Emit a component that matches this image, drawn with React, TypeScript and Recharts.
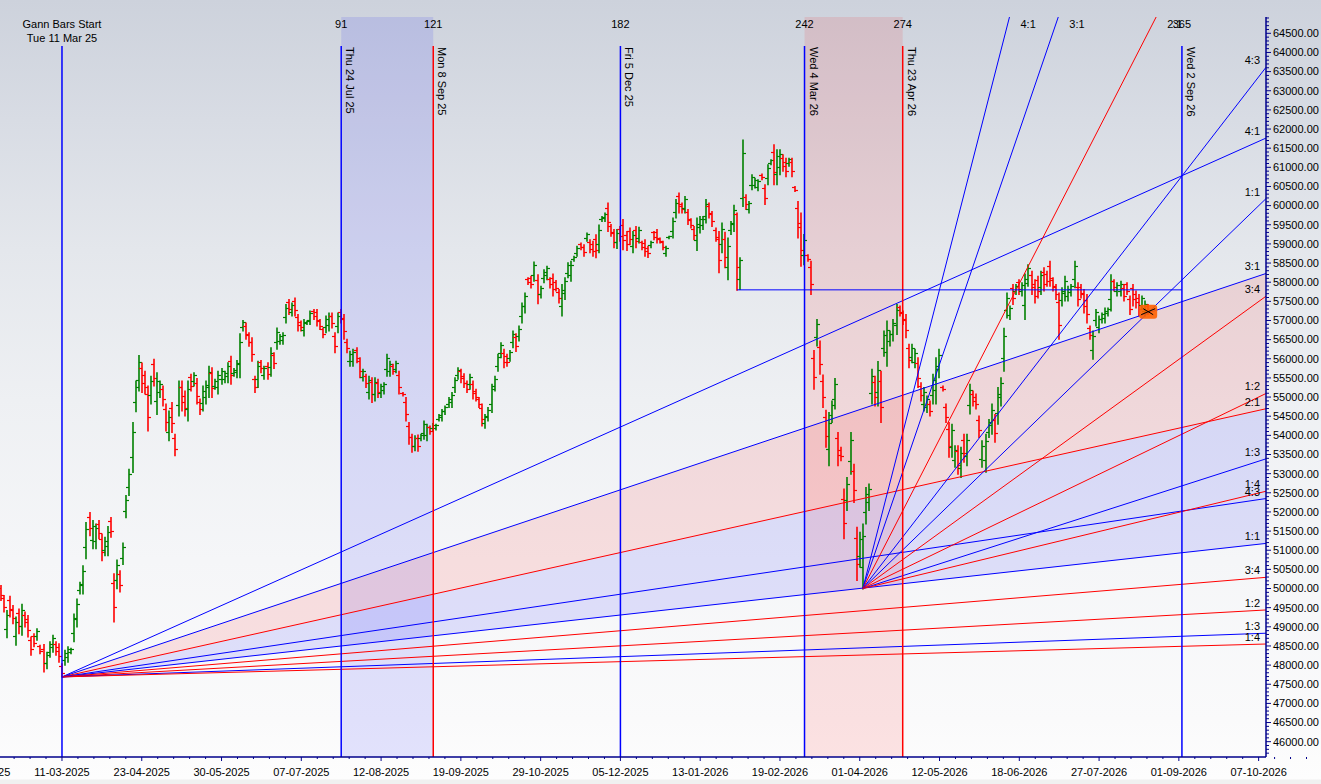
import React from 'react';
import { ComposedChart, Bar, Area, Scatter, XAxis, YAxis, ReferenceLine, ReferenceArea } from 'recharts';

// ---------------- data ----------------
const FIRST_BAR = -20;
// [open, high, low, close] per trading bar, starting at bar -20
const OHLC: number[][] = [
  // -20
  [50010,50090,49700,49820],[49740,49830,49400,49530],[48940,49440,48730,49300],[49700,49810,49270,49430],[49470,49570,49090,49230],[48750,49270,48530,49120],[49350,49480,48830,49030],[49030,49600,48790,49440],[49320,49400,49010,49130],[49200,49310,48750,48920],
  // -10
  [48650,48750,48270,48410],[48760,48830,48490,48590],[48750,48960,48660,48900],[48490,48530,48310,48380],[48410,48550,47830,48050],[48050,48350,47920,48260],[48340,48620,48220,48540],[48480,48790,48350,48700],[48550,48620,48270,48380],[48470,48570,48090,48230],
  // 0
  [47980,48050,47700,47800],[48130,48400,48010,48320],[48210,48490,48090,48410],[48350,48450,48310,48420],[48840,49350,48620,49200],[49230,49740,49010,49600],[49960,50180,49870,50120],[50090,50610,49870,50460],[51080,51740,50790,51550],[51880,52000,51390,51570],
  // 10
  [51270,51790,51050,51640],[51250,51700,51050,51570],[51690,51790,51310,51450],[51300,51440,50740,50950],[51010,51350,50870,51250],[51100,51630,50870,51480],[51770,51870,51350,51510],[50150,50400,49140,49520],[50230,50760,50010,50610],[50370,50480,49920,50090],
  // 20
  [50810,51200,50640,51090],[52030,52440,51860,52320],[52650,53130,52440,52990],[53430,54350,53040,54090],[54870,55430,54630,55270],[55450,56100,55170,55910],[55750,55900,55130,55360],[55570,55690,55090,55270],[55070,55300,54130,54480],[55050,55560,54830,55410],
  // 30
  [55860,56000,55300,55510],[54890,55650,54560,55430],[55130,55430,55000,55340],[55200,55300,54780,54940],[54690,54830,54130,54340],[54100,54650,53870,54490],[54710,54870,54090,54320],[53930,54040,53480,53650],[54790,55430,54520,55250],[55270,55430,54650,54880],
  // 40
  [55040,55170,54520,54720],[54700,55430,54390,55220],[55520,55610,55170,55300],[55410,55650,55300,55580],[55370,55500,54830,55030],[54880,54960,54560,54680],[54850,55300,54650,55170],[55010,55430,54830,55310],[55250,55820,55000,55660],[55620,55780,55000,55230],
  // 50
  [55300,55480,55220,55430],[55270,55690,55090,55570],[55470,55760,55350,55680],[55480,55690,55390,55630],[55550,55910,55390,55810],[55930,56080,55350,55570],[55620,55760,55560,55720],[55660,55970,55520,55880],[55870,56670,55520,56440],[56820,57010,56740,56960],
  // 60
  [56860,56950,56520,56650],[56620,56690,56340,56450],[56440,56560,55950,56130],[55470,55560,55130,55260],[55470,55950,55260,55810],[55910,55970,55650,55750],[55580,55820,55480,55750],[55820,55910,55480,55610],[55780,56300,55560,56150],[56090,56170,55760,55880],
  // 70
  [56430,56820,56260,56710],[56470,56650,56390,56600],[56480,56690,56390,56630],[57090,57430,56950,57330],[57480,57560,57170,57290],[57230,57470,57130,57400],[57510,57600,57130,57270],[57080,57170,56740,56870],[56950,57000,56740,56820],[56740,57040,56610,56950],
  // 80
  [56940,57000,56910,56980],[57010,57260,56910,57190],[57250,57300,57040,57120],[57210,57300,56870,57000],[56990,57040,56780,56860],[56770,56820,56560,56640],[56820,57130,56690,57040],[56880,57210,56740,57120],[57130,57210,56820,56940],[56590,56690,56170,56330],
  // 90
  [56850,57210,56690,57110],[57230,57300,56950,57060],[57040,57170,56520,56720],[56450,56520,56170,56280],[55940,56210,55820,56130],[55950,56260,55820,56170],[56220,56300,55910,56030],[55940,56040,55520,55680],[55520,55740,55430,55680],[55540,55610,55260,55370],
  // 100
  [55140,55560,54960,55440],[55390,55520,54870,55070],[55090,55520,54910,55400],[55380,55480,55000,55140],[55110,55350,55000,55280],[55180,55390,55090,55330],[55730,56130,55560,56020],[55680,55950,55560,55870],[55820,55870,55610,55690],[55740,55950,55650,55890],
  // 110
  [55570,55690,55090,55270],[55110,55130,55040,55070],[54880,55000,54390,54570],[54240,54350,53780,53950],[53950,54040,53570,53710],[53730,54000,53610,53920],[53940,54020,53600,53730],[53920,54040,53870,54010],[54050,54390,53910,54290],[54000,54300,53870,54210],
  // 120
  [54220,54260,54040,54110],[54190,54320,54130,54280],[54200,54300,54150,54270],[54440,54560,54390,54530],[54480,54690,54390,54630],[54630,54780,54560,54740],[54820,55000,54740,54950],[54860,55130,54740,55050],[55250,55520,55130,55440],[55570,55780,55480,55720],
  // 130
  [55670,55740,55390,55500],[55550,55620,55260,55370],[55370,55430,55130,55220],[55340,55610,55220,55530],[55340,55430,54960,55100],[55160,55220,54910,55000],[54950,55000,54740,54820],[54720,54830,54260,54430],[54310,54560,54200,54490],[54500,54740,54390,54670],
  // 140
  [54830,55350,54610,55200],[55290,55560,55170,55480],[55820,56130,55690,56040],[56160,56430,56040,56350],[56160,56260,55780,55920],[56070,56130,55820,55910],[56030,56230,55950,56170],[56430,56740,56300,56650],[56570,56670,56200,56340],[56600,56870,56480,56790],
  // 150
  [57110,57470,56950,57370],[57370,57730,57210,57630],[58090,58130,57950,58000],[58110,58170,57860,57950],[58190,58540,58040,58440],[58060,58210,57450,57680],[57690,57910,57600,57850],[58100,58340,58000,58270],[58190,58430,58080,58360],[58080,58130,57860,57940],
  // 160
  [58110,58230,57650,57820],[58000,58060,57780,57860],[57750,57820,57470,57580],[57380,57950,57130,57790],[57730,58130,57560,58020],[58250,58520,58130,58440],[58200,58560,58040,58460],[58600,58690,58560,58660],[58770,58950,58690,58900],[59000,59040,58860,58910],
  // 170
  [58930,58990,58690,58780],[59150,59300,59080,59260],[59050,59120,58780,58880],[59000,59080,58690,58810],[59130,59250,58650,58830],[59000,59510,58780,59360],[59640,59730,59600,59700],[59670,59820,59600,59780],[59930,60080,59340,59560],[59460,59520,59210,59300],
  // 180
  [59290,59390,58910,59050],[59040,59390,58890,59290],[59390,59470,59080,59200],[59490,59650,58860,59100],[59240,59340,58840,58990],[59340,59430,58990,59120],[58950,59340,58780,59230],[59360,59470,58910,59080],[59160,59450,59040,59370],[59040,59080,58860,58930],
  // 190
  [59030,59120,58690,58820],[58890,58950,58660,58750],[58960,59080,58910,59050],[59300,59340,59120,59190],[59320,59390,59040,59150],[59140,59170,59040,59080],[59040,59080,58860,58930],[58770,58950,58690,58900],[59170,59210,59150,59200],[59330,59690,59170,59590],
  // 200
  [59830,60170,59690,60070],[60240,60340,59820,59980],[60030,60080,59820,59900],[59950,60250,59820,60160],[59830,59910,59520,59640],[59620,59670,59430,59500],[59400,59470,59120,59230],[59100,59690,58840,59520],[59430,59730,59300,59640],[59490,59730,59390,59660],
  // 210
  [59740,60170,59560,60050],[60000,60080,59690,59810],[59780,59860,59470,59590],[59360,59430,59080,59190],[59120,59340,58260,58580],[59010,59560,58780,59400],[59130,59320,58390,58670],[58410,59170,58080,58950],[59360,59600,59260,59530],[59540,60020,59340,59880],
  // 220
  [59770,59820,57800,58390],[58090,58650,57820,58580],[60200,61730,59990,61380],[60220,60300,59910,60030],[59910,60120,59820,60060],[60550,60820,60430,60740],[60550,60730,60470,60680],[60490,60690,60400,60630],[60810,60840,60690,60740],[60460,60560,60040,60200],
  // 230
  [60720,61080,60560,60980],[61120,61210,61080,61180],[61390,61600,60560,60870],[60830,61470,60560,61290],[61020,61470,60820,61340],[61250,61340,60910,61040],[61150,61250,60770,60910],[61100,61250,61040,61210],[61150,61250,60770,60910],[60480,60510,60380,60420],
  // 240
  [59930,60120,59170,59450],[59540,59820,58430,58850],[58710,59260,58470,59100],[58700,58730,58560,58610],[58390,58560,57690,57950],[56030,56230,55220,55520],[56560,57040,56350,56900],[56310,56480,55610,55870],[55420,55590,54740,54990],[54480,54670,53700,53990],
  // 250
  [53640,54610,53220,54330],[54520,54910,54350,54800],[54940,55500,54700,55340],[53920,54090,53220,53480],[53630,53700,53350,53460],[52350,52610,51310,51700],[52310,52910,52050,52740],[53330,54090,53000,53870],[53060,53260,52260,52560],[51330,51610,50220,50640],
  // 260
  [50840,51480,50570,51300],[50550,51700,50000,51370],[51990,52650,51700,52460],[52260,52740,52050,52600],[55100,55740,54830,55560],[55400,55560,54780,55010],[55130,55940,54780,55710],[55420,55690,54350,54750],[56280,56740,56080,56610],[56170,57000,55820,56760],
  // 270
  [56470,56740,56350,56660],[56650,57040,56480,56930],[56880,57430,56650,57270],[57340,57390,57130,57210],[57190,57260,56910,57020],[57050,57170,56560,56740],[56270,56390,55780,55960],[56050,56390,55910,56290],[55920,56260,55780,56160],[55880,56040,55260,55490],
  // 280
  [55290,55390,54910,55050],[54830,55260,54650,55140],[54740,55040,54610,54950],[54830,54910,54520,54640],[55060,55610,54830,55450],[55190,56040,54830,55800],[55740,56260,55520,56110],[55270,55300,55170,55210],[54730,54830,54350,54490],[54170,54350,53440,53710],
  // 290
  [53700,54300,53440,54130],[53350,53740,53180,53630],[53590,53740,53000,53220],[53150,53700,52910,53540],[53890,54040,53310,53530],[53470,54040,53220,53880],[54800,55350,54570,55190],[55090,55170,54780,54900],[55010,55090,54700,54820],[54410,54520,53960,54130],
  // 300
  [53390,53870,53180,53730],[53350,54040,53050,53840],[54100,54430,53960,54340],[54280,54830,54040,54670],[54410,54560,53830,54050],[54590,55260,54300,55070],[55000,55520,54780,55370],[56030,56810,55690,56590],[57280,57730,57080,57600],[57150,57390,57040,57320],
  // 310
  [57850,57950,57430,57590],[57770,57950,57690,57900],[58000,58080,57690,57810],[57760,58000,57650,57930],[57400,58230,57040,57990],[58080,58470,57910,58360],[58180,58300,57690,57870],[57960,58080,57470,57650],[58060,58170,57600,57770],[57870,58300,57690,58180],
  // 320
  [58270,58390,57780,57960],[58220,58300,57910,58030],[58430,58560,57910,58110],[58060,58130,57780,57890],[57870,57950,57560,57680],[57490,57730,56520,56880],[57530,57870,57390,57770],[57720,58170,57520,58040],[57640,57910,57520,57830],[57740,57950,57650,57890],
  // 330
  [58080,58560,57870,58420],[57880,58000,57390,57570],[57880,57950,57600,57710],[57700,57820,57210,57390],[57540,57690,56950,57170],[56800,56870,56520,56630],[56220,56740,56000,56590],[57000,57300,56870,57210],[56820,57130,56690,57040],[57030,57210,56950,57160],
  // 340
  [57070,57340,56950,57260],[57190,57340,57130,57300],[57550,58210,57260,58020],[58020,58080,57780,57870],[57760,58000,57650,57930],[57770,58040,57650,57960],[57860,57950,57520,57650],[57940,58000,57690,57780],[57550,57650,57170,57310],[57840,57950,57390,57560],
  // 350
  [57690,57780,57340,57470],[57580,57690,57130,57300],[57410,57650,57300,57580],[57250,57520,57130,57440],[57380,57430,57170,57250],
];

// axis domains (bar index / price)
const X_MIN = -20.2;
const X_MAX = 392.4;
const Y_MIN = 45600;
const Y_MAX = 64926;

const X_MAJOR_TICKS = [-26, 0, 26, 52, 78, 104, 130, 156, 182, 208, 234, 260, 286, 312, 338, 364, 390];
const X_TICK_LABELS = ['31-01-2025', '11-03-2025', '23-04-2025', '30-05-2025', '07-07-2025', '12-08-2025', '19-09-2025', '29-10-2025', '05-12-2025', '13-01-2026', '19-02-2026', '01-04-2026', '12-05-2026', '18-06-2026', '27-07-2026', '01-09-2026', '07-10-2026'];
const Y_MAJOR_TICKS = [46000, 46500, 47000, 47500, 48000, 48500, 49000, 49500, 50000, 50500, 51000, 51500, 52000, 52500, 53000, 53500, 54000, 54500, 55000, 55500, 56000, 56500, 57000, 57500, 58000, 58500, 59000, 59500, 60000, 60500, 61000, 61500, 62000, 62500, 63000, 63500, 64000, 64500];

// vertical time lines
const VLINE_BARS = [0, 91, 121, 182, 242, 274, 365];
const VLINE_NUMS = ['', '91', '121', '182', '242', '274', '365'];
const VLINE_DATES = ['', 'Thu 24 Jul 25', 'Mon 8 Sep 25', 'Fri 5 Dec 25', 'Wed 4 Mar 26', 'Thu 23 Apr 26', 'Wed 2 Sep 26'];
const VLINE_KIND = ['b', 'b', 'r', 'b', 'b', 'r', 'b'];
const VLINE_TOP = 64170;
const START_LABEL = ['Gann Bars Start', 'Tue 11 Mar 25'];

// shaded time bands
const BANDS = [[91, 121], [242, 274]];
const BAND_KIND = ['b', 'r'];

// horizontal level
const HLINE = { from: 220, to: 365, price: 57800 };

// Gann fans
const FAN_RATIOS = ['4:1', '3:1', '2:1', '4:3', '1:1', '3:4', '1:2', '1:3', '1:4'];
const FAN_KIND = ['b', 'b', 'r', 'b', 'b', 'r', 'r', 'b', 'r'];
const FAN1_ORIGIN = { i: 0, p: 47691 };
const FAN1_END_BAR = [392.4, 392.4, 392.4, 392.4, 392.4, 392.4, 392.4, 392.4, 392.4];
const FAN1_END_PRICE = [61764, 58228, 54695, 52350, 51178, 50292, 49440, 48833, 48551];
const FAN2_ORIGIN = { i: 261, p: 50000 };
const FAN2_END_BAR = [308.8, 324.7, 356.6, 392.4, 392.4, 392.4, 392.4, 392.4, 392.4];
const FAN2_END_PRICE = [64926, 64926, 64926, 63612, 60183, 57634, 55094, 53387, 52540];

// current-price marker
const MARKER = { i: 354, p: 57230 };

// ---------------- styles ----------------
const BLUE = '#0000ff';
const RED = '#ff0000';
const UP = '#008000';
const AXIS = '#00008b';
const FONT = "Arial, 'Liberation Sans', sans-serif";
const KIND_COLOR: Record<string, string> = { b: BLUE, r: RED };

// ---------------- derived tables ----------------
const rows = OHLC.map((b, k) => ({ i: FIRST_BAR + k, o: b[0], h: b[1], l: b[2], c: b[3] }));

const xTicks: number[] = [];
X_MAJOR_TICKS.forEach((m) => {
  xTicks.push(m);
  for (let k = 1; k < 5; k++) xTicks.push(m + (26 * k) / 5);
});
const yTicks: number[] = [];
for (let v = 45700; v <= 64900; v += 100) yTicks.push(v);

const fan1Shade = [
  { i: FAN1_ORIGIN.i, v: [FAN1_ORIGIN.p, FAN1_ORIGIN.p], w: [FAN1_ORIGIN.p, FAN1_ORIGIN.p] },
  { i: FAN1_END_BAR[0], v: [FAN1_END_PRICE[2], FAN1_END_PRICE[1]], w: [FAN1_END_PRICE[4], FAN1_END_PRICE[2]] },
];

type Lbl = { i: number; p: number; text: string; kind: string };
const labels: Lbl[] = [];
labels.push({ i: 0, p: Y_MAX, text: START_LABEL[0], kind: 'top1' });
labels.push({ i: 0, p: Y_MAX, text: START_LABEL[1], kind: 'top2' });
VLINE_BARS.forEach((b, k) => {
  if (VLINE_NUMS[k]) labels.push({ i: b, p: Y_MAX, text: VLINE_NUMS[k], kind: 'top1' });
  if (VLINE_DATES[k]) labels.push({ i: b, p: Y_MAX, text: VLINE_DATES[k], kind: 'rot' });
});
FAN_RATIOS.forEach((r, k) => {
  labels.push({ i: FAN1_END_BAR[k], p: FAN1_END_PRICE[k], text: r, kind: 'right' });
  if (FAN2_END_BAR[k] >= X_MAX - 0.01) labels.push({ i: FAN2_END_BAR[k], p: FAN2_END_PRICE[k], text: r, kind: 'right' });
  else labels.push({ i: FAN2_END_BAR[k], p: Y_MAX, text: r, kind: 'topfan' });
});

// ---------------- renderers ----------------
const OhlcShape = (props: any) => {
  const { x, y, width, height, payload } = props;
  if (x == null || y == null || !payload) return null;
  const top = Math.min(y, y + height);
  const bot = Math.max(y, y + height);
  const cx = Math.round(x + width / 2);
  const { o, h, l, c } = payload;
  const span = h - l || 1;
  const toY = (v: number) => Math.round(top + ((h - v) / span) * (bot - top)) + 0.5;
  const col = c >= o ? UP : RED;
  return (
    <g stroke={col} fill="none">
      <line x1={cx} y1={top} x2={cx} y2={bot + 1} strokeWidth={1.6} />
      <line x1={cx - 3} y1={toY(o)} x2={cx} y2={toY(o)} strokeWidth={1.2} />
      <line x1={cx} y1={toY(c)} x2={cx + 3} y2={toY(c)} strokeWidth={1.2} />
    </g>
  );
};

const LabelShape = (props: any) => {
  const { cx, cy, payload } = props;
  if (cx == null || cy == null || !payload) return null;
  const t = payload as Lbl;
  const common = { fontFamily: FONT, fontSize: 11, fill: '#000' };
  if (t.kind === 'rot') {
    const tx = cx + 5;
    const ty = cy + 30;
    return <text x={tx} y={ty} transform={`rotate(90 ${tx} ${ty})`} {...common}>{t.text}</text>;
  }
  if (t.kind === 'top1') return <text x={cx} y={cy + 11} textAnchor="middle" {...common}>{t.text}</text>;
  if (t.kind === 'top2') return <text x={cx} y={cy + 25} textAnchor="middle" {...common}>{t.text}</text>;
  if (t.kind === 'topfan') return <text x={cx + 11} y={cy + 11} textAnchor="start" {...common}>{t.text}</text>;
  return <text x={cx - 6} y={cy - 3} textAnchor="end" {...common}>{t.text}</text>;
};

const MarkerShape = (props: any) => {
  const { cx, cy } = props;
  if (cx == null || cy == null) return null;
  return (
    <g>
      <rect x={cx - 9} y={cy - 7} width={18} height={14} rx={3} fill="#ff6000" fillOpacity={0.9} />
      <line x1={cx - 7} y1={cy + 3} x2={cx + 7} y2={cy - 3} stroke="#000" strokeWidth={1} />
      <line x1={cx - 5} y1={cy - 3} x2={cx + 5} y2={cy + 3} stroke="#000" strokeWidth={1} />
    </g>
  );
};

const XTick = (props: any) => {
  const { x, y, payload } = props;
  const idx = X_MAJOR_TICKS.indexOf(payload.value);
  if (idx >= 0) {
    return (
      <g>
        <line x1={x} y1={y} x2={x} y2={y + 4} stroke={AXIS} />
        <text x={x} y={y + 19} textAnchor="middle" fontFamily={FONT} fontSize={11} fill="#000">{X_TICK_LABELS[idx]}</text>
      </g>
    );
  }
  return <line x1={x} y1={y} x2={x} y2={y + 2} stroke={AXIS} />;
};

const YTick = (props: any) => {
  const { x, y, payload } = props;
  const v = payload.value;
  if (Y_MAJOR_TICKS.indexOf(v) >= 0) {
    return (
      <g>
        <line x1={x} y1={y} x2={x + 5} y2={y} stroke={AXIS} />
        <text x={x + 7} y={y} dy="0.35em" textAnchor="start" fontFamily={FONT} fontSize={11} fill="#000">{v.toFixed(2)}</text>
      </g>
    );
  }
  return <line x1={x} y1={y} x2={x + 3} y2={y} stroke={AXIS} />;
};

export default function App() {
  return (
    <div
      style={{
        position: 'absolute', left: 0, top: 0, width: 1321, height: 784, overflow: 'hidden',
        background: 'linear-gradient(to bottom, #cdd2dc 0px, #d8dce4 120px, #e4e7ec 250px, #eef0f3 400px, #f5f6f8 560px, #fafafb 720px, #fdfdfd 779px, #f0f0f0 780px, #f0f0f0 784px)',
      }}
    >
      <ComposedChart width={1321} height={784} data={rows} margin={{ top: 17, right: 0, bottom: 0, left: 0 }}>
        <XAxis
          dataKey="i" type="number" domain={[X_MIN, X_MAX]} allowDataOverflow
          ticks={xTicks} interval={0} tick={<XTick />} tickLine={false} tickSize={0} tickMargin={0}
          height={27} axisLine={{ stroke: AXIS, strokeWidth: 1.5 }}
        />
        <YAxis
          orientation="right" type="number" domain={[Y_MIN, Y_MAX]} allowDataOverflow
          ticks={yTicks} interval={0} tick={<YTick />} tickLine={false} tickSize={0} tickMargin={0}
          width={55} axisLine={{ stroke: AXIS, strokeWidth: 1.5 }}
        />

        {BANDS.map((b, k) => (
          <ReferenceArea key={'band' + k} x1={b[0]} x2={b[1]} fill={KIND_COLOR[BAND_KIND[k]]} fillOpacity={0.1} stroke="none" ifOverflow="hidden" />
        ))}

        <Area data={fan1Shade} dataKey="v" type="linear" stroke="none" fill={RED} fillOpacity={0.1} isAnimationActive={false} />
        <Area data={fan1Shade} dataKey="w" type="linear" stroke="none" fill={BLUE} fillOpacity={0.1} isAnimationActive={false} />

        <Bar dataKey={(d: any) => [d.l, d.h]} barSize={5} shape={OhlcShape} isAnimationActive={false} />

        <Scatter data={[MARKER]} dataKey="p" shape={MarkerShape} isAnimationActive={false} />

        {FAN_RATIOS.map((r, k) => (
          <ReferenceLine key={'f1' + k} segment={[{ x: FAN1_ORIGIN.i, y: FAN1_ORIGIN.p }, { x: FAN1_END_BAR[k], y: FAN1_END_PRICE[k] }]}
            stroke={KIND_COLOR[FAN_KIND[k]]} strokeWidth={1} ifOverflow="hidden" />
        ))}
        {FAN_RATIOS.map((r, k) => (
          <ReferenceLine key={'f2' + k} segment={[{ x: FAN2_ORIGIN.i, y: FAN2_ORIGIN.p }, { x: FAN2_END_BAR[k], y: FAN2_END_PRICE[k] }]}
            stroke={KIND_COLOR[FAN_KIND[k]]} strokeWidth={1} ifOverflow="hidden" />
        ))}

        {VLINE_BARS.map((b, k) => (
          <ReferenceLine key={'v' + k} segment={[{ x: b, y: VLINE_TOP }, { x: b, y: Y_MIN }]}
            stroke={KIND_COLOR[VLINE_KIND[k]]} strokeWidth={1.5} ifOverflow="hidden" />
        ))}
        <ReferenceLine segment={[{ x: HLINE.from, y: HLINE.price }, { x: HLINE.to, y: HLINE.price }]} stroke={BLUE} strokeWidth={1} ifOverflow="hidden" />

        <Scatter data={labels} dataKey="p" shape={LabelShape} isAnimationActive={false} />
      </ComposedChart>
    </div>
  );
}
